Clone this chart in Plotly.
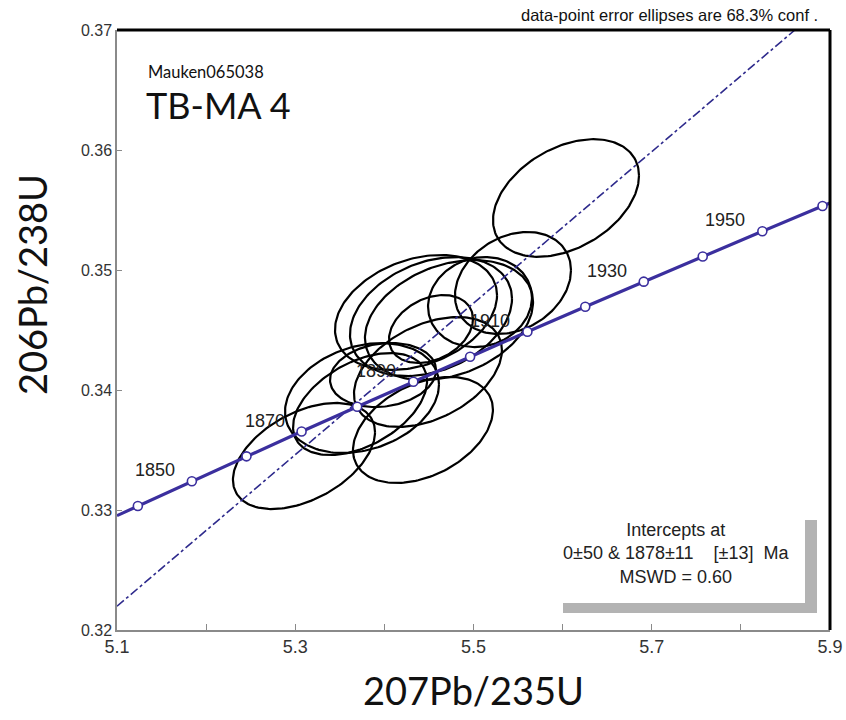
import numpy as np
import plotly.graph_objects as go

# Concordia points (ages in Ma and their ratios)
conc_ages = [1840, 1850, 1860, 1870, 1880, 1890, 1900, 1910, 1920, 1930, 1940, 1950, 1960]
conc_x = [5.1234, 5.1840, 5.2453, 5.3071, 5.3695, 5.4325, 5.4962, 5.5605, 5.6254, 5.6910, 5.7572, 5.8241, 5.8916]
conc_y = [0.33033, 0.33240, 0.33447, 0.33654, 0.33861, 0.34069, 0.34277, 0.34486, 0.34694, 0.34903, 0.35113, 0.35323, 0.35533]
conc_line_x = [5.10] + conc_x + [5.90]
conc_line_y = [0.32953] + conc_y + [0.35559]
label_ages = [1850, 1870, 1890, 1910, 1930, 1950]

# Discordia (chord) endpoints within plot window
disc_x = [5.10, 5.8606]
disc_y = [0.32198, 0.37]

# Data-point error ellipses: centre x, centre y, sigma x, sigma y, rho
ell_cx = [5.6038, 5.5443, 5.5073, 5.4725, 5.4523, 5.4355, 5.4523, 5.3985, 5.4489, 5.3749, 5.3727, 5.4433, 5.3098]
ell_cy = [0.35600, 0.34892, 0.34733, 0.34583, 0.34612, 0.34646, 0.34508, 0.34125, 0.34150, 0.33933, 0.33883, 0.33667, 0.33450]
ell_sx = [0.0819, 0.0651, 0.0583, 0.0943, 0.0909, 0.0909, 0.0471, 0.0595, 0.0830, 0.0864, 0.0752, 0.0785, 0.0797]
ell_sy = [0.00490, 0.00425, 0.00375, 0.00500, 0.00496, 0.00479, 0.00283, 0.00267, 0.00458, 0.00458, 0.00425, 0.00442, 0.00442]
ell_rho = [0.38, 0.25, 0.10, 0.30, 0.30, 0.30, 0.30, 0.15, 0.40, 0.25, 0.45, 0.38, 0.45]

x_ticks = [5.1, 5.3, 5.5, 5.7, 5.9]
y_ticks = [0.32, 0.33, 0.34, 0.35, 0.36, 0.37]

LINE_COL = "#3b2f9e"
DISC_COL = "#2e2a8c"

# plot-area pixel geometry (used only to place decorations)
L, R, T, B = 117, 830, 30, 630
PW, PH = R - L, B - T


def px(xp):
    return (xp - L) / PW


def py(yp):
    return (B - yp) / PH


fig = go.Figure()

t = np.linspace(0, 2 * np.pi, 181)
for cx, cy, sx, sy, r in zip(ell_cx, ell_cy, ell_sx, ell_sy, ell_rho):
    ex = cx + sx * np.cos(t)
    ey = cy + sy * (r * np.cos(t) + np.sqrt(1 - r * r) * np.sin(t))
    fig.add_trace(go.Scatter(x=ex, y=ey, mode="lines",
                             line=dict(color="black", width=2.2),
                             hoverinfo="skip", showlegend=False))

fig.add_trace(go.Scatter(x=disc_x, y=disc_y, mode="lines",
                         line=dict(color=DISC_COL, width=1.6, dash="dashdot"),
                         showlegend=False))

fig.add_trace(go.Scatter(x=conc_line_x, y=conc_line_y, mode="lines",
                         line=dict(color=LINE_COL, width=3.2), showlegend=False))
fig.add_trace(go.Scatter(x=conc_x, y=conc_y, mode="markers",
                         marker=dict(symbol="circle", size=9, color="white",
                                     line=dict(color=LINE_COL, width=1.6)),
                         showlegend=False))

annotations = []
for a in label_ages:
    i = conc_ages.index(a)
    annotations.append(dict(x=conc_x[i], y=conc_y[i], xref="x", yref="y",
                            text=str(a), showarrow=False, xshift=-37, yshift=11,
                            font=dict(family="Liberation Sans, Arial", size=18, color="#222")))

annotations += [
    dict(x=px(820), y=py(15), xref="paper", yref="paper", yanchor="middle",
         xanchor="right", text="data-point error ellipses are 68.3% conf .", showarrow=False,
         font=dict(family="Liberation Sans, Arial", size=16.5, color="#111")),
    dict(x=px(146), y=py(72), xref="paper", yref="paper",
         xanchor="left", yanchor="middle", text="Mauken065038", showarrow=False,
         font=dict(family="Lato, Open Sans", size=16.5, color="#111")),
    dict(x=px(144), y=py(105), xref="paper", yref="paper",
         xanchor="left", yanchor="middle", text="TB-MA 4", showarrow=False,
         font=dict(family="Lato, Open Sans", size=36, color="#111")),
    dict(x=px(676), y=py(553), xref="paper", yref="paper",
         xanchor="center", yanchor="middle", align="center", showarrow=False,
         text="Intercepts at<br>0±50 & 1878±11    [±13]  Ma<br>MSWD = 0.60",
         font=dict(family="Liberation Sans, Arial", size=18, color="#222")),
    dict(x=px(473), y=py(690), xref="paper", yref="paper", xanchor="center",
         yanchor="middle", text="207Pb/235U", showarrow=False,
         font=dict(family="Lato, Open Sans", size=38, color="#111")),
    dict(x=px(32), y=py(285), xref="paper", yref="paper", xanchor="center",
         yanchor="middle", text="206Pb/238U", showarrow=False, textangle=-90,
         font=dict(family="Lato, Open Sans", size=38, color="#111")),
]

shapes = [
    # shadow of intercept box
    dict(type="rect", xref="paper", yref="paper",
         x0=px(563), x1=px(817), y0=py(613), y1=py(603),
         fillcolor="#b3b3b3", line=dict(width=0), layer="below"),
    dict(type="rect", xref="paper", yref="paper",
         x0=px(805), x1=px(817), y0=py(613), y1=py(520),
         fillcolor="#b3b3b3", line=dict(width=0), layer="below"),
    # thick top and right frame
    dict(type="line", xref="paper", yref="paper", x0=0, x1=1, y0=1, y1=1,
         line=dict(color="black", width=3)),
    dict(type="line", xref="paper", yref="paper", x0=1, x1=1, y0=0, y1=1,
         line=dict(color="black", width=3)),
]

fig.update_layout(
    width=846, height=720,
    margin=dict(l=L, r=846 - R, t=T, b=720 - B, autoexpand=False),
    plot_bgcolor="white", paper_bgcolor="white",
    annotations=annotations, shapes=shapes, showlegend=False,
    xaxis=dict(range=[5.1, 5.9], tickvals=x_ticks, ticktext=[f"{v:.1f}" for v in x_ticks],
               automargin=False,
               showgrid=False, zeroline=False, showline=True, linecolor="#8a8a8a", linewidth=1.5,
               ticks="inside", ticklen=6, tickcolor="#8a8a8a",
               minor=dict(dtick=0.1, tick0=5.1, ticks="inside", ticklen=6, tickcolor="#8a8a8a"),
               tickfont=dict(family="Liberation Sans, Arial", size=18, color="#333")),
    yaxis=dict(range=[0.32, 0.37], tickvals=y_ticks, ticktext=[f"{v:.2f}" for v in y_ticks],
               automargin=False,
               showgrid=False, zeroline=False, showline=True, linecolor="#8a8a8a", linewidth=1.5,
               ticks="inside", ticklen=5, tickcolor="#8a8a8a",
               tickfont=dict(family="Liberation Sans, Arial", size=16, color="#333")),
)

fig.write_html("out.html", config={"displayModeBar": False},
               post_script="document.body.style.margin='0';document.body.style.overflow='hidden';")
